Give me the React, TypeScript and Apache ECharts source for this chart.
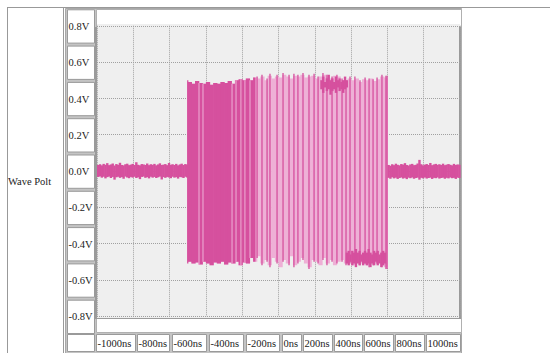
import React, { useEffect, useRef } from "react";
import * as echarts from "echarts";

// ---------- data ----------
const rowLabel = "Wave Polt";
const yTickValues = [0.8, 0.6, 0.4, 0.2, 0.0, -0.2, -0.4, -0.6, -0.8];
const yTickLabels = ["0.8V", "0.6V", "0.4V", "0.2V", "0.0V", "-0.2V", "-0.4V", "-0.6V", "-0.8V"];
const xTickLabels = ["-1000ns", "-800ns", "-600ns", "-400ns", "-200ns", "0ns", "200ns", "400ns", "600ns", "800ns", "1000ns"];

// baseline noise before the burst: one sample per 10 ns from -1000 ns
const leftNoiseStart = -1000;
const leftNoiseHi = [
  0.033, 0.037, 0.031, 0.039, 0.034, 0.043, 0.032, 0.036, 0.041, 0.030,
  0.038, 0.034, 0.045, 0.033, 0.031, 0.037, 0.040, 0.032, 0.035, 0.039,
  0.033, 0.048, 0.034, 0.031, 0.038, 0.036, 0.033, 0.041, 0.032, 0.037,
  0.034, 0.039, 0.031, 0.036, 0.042, 0.033, 0.035, 0.038, 0.032, 0.044,
  0.034, 0.037, 0.033, 0.039, 0.031, 0.036, 0.040, 0.033, 0.038, 0.035,
];
const leftNoiseLo = [
  -0.033, -0.030, -0.037, -0.032, -0.041, -0.034, -0.031, -0.039, -0.033, -0.048,
  -0.035, -0.032, -0.038, -0.034, -0.043, -0.031, -0.036, -0.040, -0.033, -0.037,
  -0.032, -0.039, -0.035, -0.045, -0.033, -0.031, -0.038, -0.034, -0.041, -0.032,
  -0.037, -0.033, -0.039, -0.035, -0.031, -0.047, -0.034, -0.038, -0.033, -0.036,
  -0.040, -0.032, -0.037, -0.034, -0.042, -0.033, -0.035, -0.039, -0.032, -0.036,
];

// baseline noise after the burst: one sample per 10 ns from 600 ns
const rightNoiseStart = 600;
const rightNoiseHi = [
  0.033, 0.029, 0.037, 0.032, 0.040, 0.034, 0.031, 0.038,
  0.035, 0.043, 0.033, 0.030, 0.036, 0.039, 0.032, 0.034,
  0.041, 0.061, 0.037, 0.031, 0.035, 0.038, 0.033, 0.044,
  0.032, 0.036, 0.039, 0.034, 0.037, 0.033, 0.040, 0.032,
  0.035, 0.038, 0.034, 0.031, 0.039, 0.033, 0.036, 0.034,
];
const rightNoiseLo = [
  -0.038, -0.043, -0.035, -0.041, -0.037, -0.044, -0.039, -0.036,
  -0.042, -0.038, -0.045, -0.037, -0.040, -0.036, -0.043, -0.039,
  -0.037, -0.048, -0.038, -0.041, -0.036, -0.042, -0.039, -0.037,
  -0.044, -0.038, -0.040, -0.036, -0.042, -0.039, -0.037, -0.043,
  -0.038, -0.041, -0.036, -0.040, -0.038, -0.044, -0.037, -0.039,
];

// burst envelope: one sample per 20 ns from -500 ns
const burstStart = -500;
const burstEnd = 600;
const burstTop = [
  0.49, 0.48, 0.495, 0.485, 0.48,
  0.49, 0.475, 0.485, 0.48, 0.49,
  0.485, 0.495, 0.48, 0.50, 0.505,
  0.50, 0.51, 0.50, 0.515, 0.51,
  0.52, 0.50, 0.525, 0.51, 0.52,
  0.515, 0.53, 0.52, 0.51, 0.525,
  0.52, 0.53, 0.515, 0.52, 0.525,
  0.51, 0.52, 0.53, 0.52, 0.51,
  0.525, 0.52, 0.50, 0.49, 0.51,
  0.50, 0.51, 0.49, 0.505, 0.50,
  0.51, 0.495, 0.505, 0.52, 0.515,
];
const burstBot = [
  -0.50, -0.51, -0.505, -0.515, -0.50,
  -0.51, -0.52, -0.505, -0.51, -0.50,
  -0.515, -0.505, -0.51, -0.50, -0.52,
  -0.505, -0.51, -0.48, -0.50, -0.47,
  -0.51, -0.49, -0.52, -0.48, -0.50,
  -0.53, -0.49, -0.51, -0.47, -0.52,
  -0.50, -0.48, -0.51, -0.53, -0.49,
  -0.50, -0.52, -0.48, -0.51, -0.49,
  -0.52, -0.50, -0.49, -0.51, -0.50,
  -0.52, -0.49, -0.51, -0.50, -0.52,
  -0.49, -0.51, -0.50, -0.52, -0.53,
];

// dense (solid) part of the burst
const denseEnd = -130;
const denseGapTimes = [-438, -416, -256, -234, -207, -185, -157];

// individual strong transitions in the sparse part
const edgeTimes = [
  -500, -118, -91, -63, -47, -8, 25, 58, 85, 107, 135, 168, 196, 218, 245,
  267, 295, 322, 350, 372, 394, 421, 449, 477, 499, 521, 543, 570, 592, 598,
];

// darker noisy band near the top: one sample per 10 ns from 230 ns
const topBandStart = 230;
const topBandHi = [0.50, 0.52, 0.49, 0.51, 0.53, 0.50, 0.51, 0.49, 0.52, 0.50, 0.51, 0.49, 0.50, 0.52, 0.50];
const topBandLo = [0.45, 0.43, 0.46, 0.44, 0.45, 0.42, 0.44, 0.45, 0.43, 0.46, 0.44, 0.45, 0.43, 0.45, 0.46];

// darker noisy band near the bottom: one sample per 10 ns from 370 ns
const botBandStart = 370;
const botBandHi = [
  -0.45, -0.44, -0.46, -0.44, -0.45, -0.43, -0.45, -0.44, -0.46, -0.45, -0.44,
  -0.45, -0.43, -0.45, -0.46, -0.44, -0.45, -0.44, -0.46, -0.45, -0.44, -0.45,
];
const botBandLo = [
  -0.51, -0.52, -0.50, -0.52, -0.51, -0.53, -0.51, -0.52, -0.50, -0.52, -0.51,
  -0.52, -0.51, -0.53, -0.51, -0.52, -0.50, -0.52, -0.51, -0.53, -0.52, -0.51,
];

// ---------- layout (not data) ----------
const W = 550;
const H = 353;
const GRID_LEFT = 97;
const GRID_RIGHT_X = 460;
const PLOT_TOP = 24;
const PLOT_BOTTOM = 318;
const X_ROW_TOP = 334;
const X_ROW_BOTTOM = 351;
const xCellEdges = [
  [96, 136], [137, 170], [172, 207], [209, 244], [246, 280], [282, 302],
  [303, 333], [334, 363], [364, 394], [395, 425], [426, 461],
];
const DARK = "#d6509e";
const LIGHT = "#eeb0d6";
const FONT = "Liberation Serif";

function envAt(t: number, arr: number[]) {
  const i = Math.min(arr.length - 1, Math.max(0, Math.floor((t - burstStart) / 20)));
  return arr[i];
}

function segments(start: number, step: number, hi: number[], lo: number[], end = Infinity) {
  return hi
    .map((h, i) => [start + i * step, Math.min(end, start + (i + 1) * step), lo[i], h])
    .filter((d) => d[0] < end);
}

function rectSeries(name: string, data: number[][], color: string, minW: number) {
  return {
    type: "custom",
    name,
    data,
    silent: true,
    encode: { x: [0, 1], y: [2, 3] },
    renderItem: (_p: any, api: any) => {
      const a = api.coord([api.value(0), api.value(3)]);
      const b = api.coord([api.value(1), api.value(2)]);
      const raw = b[0] - a[0];
      let x = a[0];
      let w = raw + 0.6; // slight overlap so that adjacent samples join without seams
      if (raw < minW) {
        w = minW;
        x = (a[0] + b[0]) / 2 - w / 2;
      }
      return {
        type: "rect",
        shape: { x, y: a[1], width: w, height: b[1] - a[1] },
        style: { fill: color },
      };
    },
  };
}

export default function App() {
  const ref = useRef<HTMLDivElement>(null);

  useEffect(() => {
    document.body.style.margin = "0";
    const chart = echarts.init(ref.current!, null, { renderer: "svg" });

    const leftNoise = segments(leftNoiseStart, 10, leftNoiseHi, leftNoiseLo);
    const rightNoise = segments(rightNoiseStart, 10, rightNoiseHi, rightNoiseLo);
    const lightBand = segments(burstStart, 20, burstTop, burstBot, burstEnd);
    const denseBand = segments(burstStart, 20, burstTop, burstBot, denseEnd);
    const topBand = segments(topBandStart, 10, topBandHi, topBandLo);
    const botBand = segments(botBandStart, 10, botBandHi, botBandLo);
    const gaps = denseGapTimes.map((t) => [t, t, envAt(t, burstBot), envAt(t, burstTop)]);
    const edges = edgeTimes.map((t) => [t, t, envAt(t, burstBot) - 0.01, envAt(t, burstTop) + 0.01]);

    const axisCommon = {
      type: "value" as const,
      axisLine: { show: false },
      axisTick: { show: false },
      axisLabel: { show: false },
      splitLine: { show: true, lineStyle: { color: "#a0a0a0", type: "dotted" as const, width: 1 } },
    };

    chart.setOption({
      animation: false,
      backgroundColor: "#ffffff",
      grid: { left: GRID_LEFT, width: GRID_RIGHT_X - GRID_LEFT, top: 25.75, height: 290.4 },
      xAxis: { ...axisCommon, min: -1000, max: 1000, interval: 200 },
      yAxis: { ...axisCommon, min: -0.8, max: 0.8, interval: 0.2 },
      series: [
        rectSeries("burst", lightBand, LIGHT, 0),
        rectSeries("dense", denseBand, DARK, 0),
        rectSeries("gaps", gaps, LIGHT, 1),
        rectSeries("topBand", topBand, DARK, 0),
        rectSeries("botBand", botBand, DARK, 0),
        rectSeries("edges", edges, DARK, 1.3),
        rectSeries("noiseL", leftNoise, DARK, 0),
        rectSeries("noiseR", rightNoise, DARK, 0),
      ],
    });

    const g: any[] = [];
    const line = (x1: number, y1: number, x2: number, y2: number, color: string, z = -5, lw = 1) =>
      g.push({ type: "line", z, silent: true, shape: { x1, y1, x2, y2 }, style: { stroke: color, lineWidth: lw } });
    const rect = (x: number, y: number, w: number, h: number, fill: string, stroke: string | null, z = -10) =>
      g.push({
        type: "rect", z, silent: true, shape: { x, y, width: w, height: h },
        style: { fill, stroke: stroke || undefined, lineWidth: stroke ? 1 : 0 },
      });
    const text = (x: number, y: number, s: string) =>
      g.push({
        type: "text", z: 100, silent: true, x, y,
        style: { text: s, font: `10.5px "${FONT}"`, fill: "#222", align: "left", verticalAlign: "middle" },
      });

    // outer frame
    line(7, 7.5, W, 7.5, "#999", -5);
    line(7.5, 7, 7.5, H, "#999", -5);
    line(63.5, 7, 63.5, H, "#999", -5);
    text(8, 181, rowLabel);

    // table background (cell spacing)
    rect(65.5, 8.5, 396, H, "#c4c4c4", "#a8a8a8", -12);

    // y label cells positioned on the axis ticks
    const pitch = Math.abs(
      (chart.convertToPixel({ yAxisIndex: 0 }, 0) as number) - (chart.convertToPixel({ yAxisIndex: 0 }, 0.2) as number)
    );
    yTickValues.forEach((v, i) => {
      const cy = (chart.convertToPixel({ yAxisIndex: 0 }, v) as number) + 0.7;
      rect(67.5, cy - (pitch - 3) / 2, 27, pitch - 3, "#ffffff", "#9a9a9a", -11);
      text(68.5, cy, yTickLabels[i]);
    });

    // plot column cell
    rect(96.5, 9.5, 365, 323, "#ffffff", "#b0b0b0", -11);
    // plot area
    rect(GRID_LEFT, PLOT_TOP, GRID_RIGHT_X - GRID_LEFT, PLOT_BOTTOM - PLOT_TOP, "#efefef", null, -10);
    line(96, PLOT_TOP + 3, 96, PLOT_BOTTOM + 1, "#9a9a9a", -4, 2);
    line(460, PLOT_TOP + 3, 460, PLOT_BOTTOM + 1, "#9a9a9a", -4, 2);
    line(96, PLOT_BOTTOM + 0.5, 461, PLOT_BOTTOM + 0.5, "#9a9a9a", -4, 1);

    // x label row
    rect(67.5, X_ROW_TOP + 0.5, 27, X_ROW_BOTTOM - X_ROW_TOP, "#ffffff", "#9a9a9a", -11);
    xCellEdges.forEach(([a, b], i) => {
      rect(a + 0.5, X_ROW_TOP + 0.5, b - a - 1, X_ROW_BOTTOM - X_ROW_TOP, "#ffffff", "#9a9a9a", -11);
      text(a + 1.5, (X_ROW_TOP + X_ROW_BOTTOM) / 2 + 1, xTickLabels[i]);
    });

    chart.setOption({ graphic: g });

    return () => chart.dispose();
  }, []);

  return (
    <div
      ref={ref}
      style={{ position: "absolute", left: 0, top: 0, width: W, height: H, background: "#fff" }}
    />
  );
}
